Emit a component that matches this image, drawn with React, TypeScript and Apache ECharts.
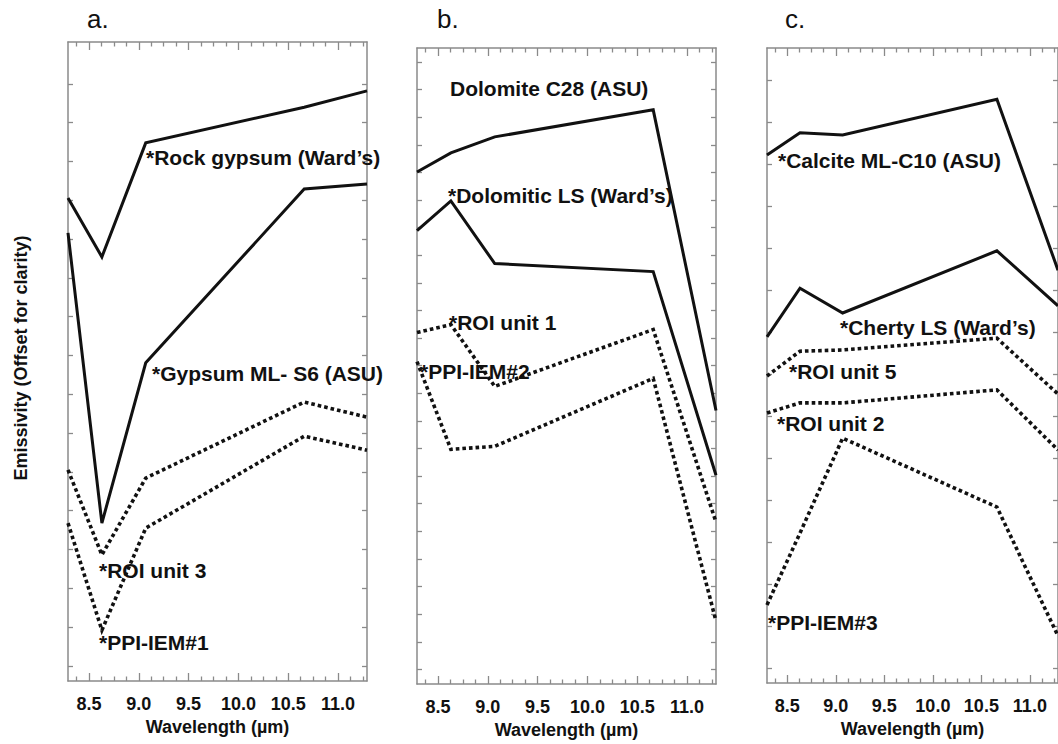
import React, { useEffect, useRef } from "react";
import * as echarts from "echarts";

// ---- data ----
const wavelengths = [8.29, 8.63, 9.07, 10.66, 11.29];

// panel a
const rockGypsum = [12.45, 10.93, 13.87, 14.79, 15.21];
const gypsumMLS6 = [11.55, 4.07, 8.2, 12.68, 12.81];
const roiUnit3 = [5.44, 3.25, 5.23, 7.19, 6.8];
const ppiIem1 = [4.07, 1.31, 3.94, 6.31, 5.95];

// panel b
const dolomiteC28 = [18.55, 19.24, 19.82, 20.8, 9.91];
const dolomiticLS = [16.42, 17.5, 15.23, 14.94, 7.56];
const roiUnit1 = [12.73, 13.02, 10.78, 12.84, 5.86];
const ppiIem2 = [11.68, 8.5, 8.61, 11.07, 2.28];

// panel c
const calciteC10 = [12.57, 13.1, 13.05, 13.9, 9.83];
const chertyLS = [8.24, 9.4, 8.81, 10.29, 8.98];
const roiUnit5 = [7.31, 7.9, 7.93, 8.21, 6.88];
const roiUnit2 = [6.43, 6.67, 6.67, 6.98, 5.55];
const ppiIem3 = [1.86, 3.57, 5.83, 4.19, 1.12];

// ticks
const majorTicks = [8.5, 9.0, 9.5, 10.0, 10.5, 11.0];
const minorTicks = [
  8.375, 8.625, 8.75, 8.875, 9.125, 9.25, 9.375, 9.625, 9.75, 9.875,
  10.125, 10.25, 10.375, 10.625, 10.75, 10.875, 11.125, 11.25,
];
const panelLetters = ["a.", "b.", "c."];
const xName = "Wavelength (µm)";
const yName = "Emissivity (Offset for clarity)";

const FONT = '"Liberation Sans", Arial, Helvetica, sans-serif';
const FRAME = "#8a8a8a";
const INK = "#111111";

type S = { name: string; values: number[]; dotted: boolean; lx: number; ly: number };

const panels = [
  {
    letterX: 87, left: 68, top: 42, width: 299, height: 639, yMax: 16.47, yTick0: 0.39, yTickN: 16,
    series: [
      { name: "*Rock gypsum (Ward\u2019s)", values: rockGypsum, dotted: false, lx: 146, ly: 157 },
      { name: "*Gypsum ML- S6 (ASU)", values: gypsumMLS6, dotted: false, lx: 152, ly: 373 },
      { name: "*ROI unit 3", values: roiUnit3, dotted: true, lx: 99, ly: 570 },
      { name: "*PPI-IEM#1", values: ppiIem1, dotted: true, lx: 99, ly: 642 },
    ] as S[],
  },
  {
    letterX: 437, left: 417, top: 48, width: 299, height: 637, yMax: 23.04, yTick0: 0.53, yTickN: 23,
    series: [
      { name: "Dolomite C28 (ASU)", values: dolomiteC28, dotted: false, lx: 450, ly: 88 },
      { name: "*Dolomitic LS (Ward\u2019s)", values: dolomiticLS, dotted: false, lx: 448, ly: 195 },
      { name: "*ROI unit 1", values: roiUnit1, dotted: true, lx: 449, ly: 322 },
      { name: "*PPI-IEM#2", values: ppiIem2, dotted: true, lx: 420, ly: 371 },
    ] as S[],
  },
  {
    letterX: 785, left: 767, top: 48, width: 299, height: 635, yMax: 15.12, yTick0: 0.36, yTickN: 15,
    series: [
      { name: "*Calcite ML-C10 (ASU)", values: calciteC10, dotted: false, lx: 778, ly: 160 },
      { name: "*Cherty LS (Ward\u2019s)", values: chertyLS, dotted: false, lx: 840, ly: 327 },
      { name: "*ROI unit 5", values: roiUnit5, dotted: true, lx: 789, ly: 371 },
      { name: "*ROI unit 2", values: roiUnit2, dotted: true, lx: 777, ly: 423 },
      { name: "*PPI-IEM#3", values: ppiIem3, dotted: true, lx: 768, ly: 622 },
    ] as S[],
  },
];

function buildOption() {
  const grid: any[] = [];
  const xAxis: any[] = [];
  const yAxis: any[] = [];
  const series: any[] = [];
  const graphic: any[] = [];

  const axisLine = { show: true, onZero: false, lineStyle: { color: FRAME, width: 1.5 } };
  const tickStyle = { color: FRAME, width: 1.3 };

  panels.forEach((p, i) => {
    grid.push({ left: p.left, top: p.top, width: p.width, height: p.height, containLabel: false });
    const yTicks: number[] = [];
    for (let k = 0; k < p.yTickN; k++) yTicks.push(+(p.yTick0 + k).toFixed(2));

    const baseX = { gridIndex: i, type: "value", min: 8.29, max: 11.29, splitLine: { show: false } };
    xAxis.push({
      ...baseX,
      position: "bottom",
      name: xName,
      nameLocation: "middle",
      nameGap: 37,
      nameTextStyle: { fontFamily: FONT, fontWeight: "bold", fontSize: 18, color: INK },
      axisLine,
      axisTick: { show: true, inside: true, length: 8, customValues: majorTicks, lineStyle: tickStyle },
      axisLabel: {
        show: true,
        customValues: majorTicks,
        formatter: (v: number) => v.toFixed(1),
        margin: 14,
        fontFamily: FONT,
        fontSize: 18,
        fontWeight: "bold",
        color: INK,
      },
    });
    xAxis.push({
      ...baseX,
      position: "bottom",
      axisLine: { show: false, onZero: false },
      axisTick: { show: true, inside: true, length: 4.5, customValues: minorTicks, lineStyle: tickStyle },
      axisLabel: { show: false },
    });
    xAxis.push({
      ...baseX,
      position: "top",
      axisLine,
      axisTick: { show: true, inside: true, length: 8, customValues: majorTicks, lineStyle: tickStyle },
      axisLabel: { show: false },
    });
    xAxis.push({
      ...baseX,
      position: "top",
      axisLine: { show: false, onZero: false },
      axisTick: { show: true, inside: true, length: 4.5, customValues: minorTicks, lineStyle: tickStyle },
      axisLabel: { show: false },
    });

    const baseY = { gridIndex: i, type: "value", min: 0, max: p.yMax, splitLine: { show: false } };
    yAxis.push({
      ...baseY,
      position: "left",
      axisLine,
      axisTick: { show: true, inside: true, length: 5, customValues: yTicks, lineStyle: tickStyle },
      axisLabel: { show: false },
    });
    yAxis.push({
      ...baseY,
      position: "right",
      axisLine,
      axisTick: { show: true, inside: true, length: 5, customValues: yTicks, lineStyle: tickStyle },
      axisLabel: { show: false },
    });

    p.series.forEach((s) => {
      series.push({
        type: "line",
        name: s.name,
        xAxisIndex: 4 * i,
        yAxisIndex: 2 * i,
        data: wavelengths.map((w, k) => [w, s.values[k]]),
        symbol: "none",
        silent: true,
        clip: false,
        lineStyle: {
          color: INK,
          width: s.dotted ? 3.6 : 3,
          type: s.dotted ? [3.6, 3] : "solid",
          cap: "butt",
          join: "miter",
        },
      });
      graphic.push({
        type: "text",
        x: s.lx,
        y: s.ly,
        z: 10,
        style: {
          text: s.name,
          font: `bold 21px ${FONT}`,
          fill: INK,
          textAlign: "left",
          align: "left",
          textVerticalAlign: "middle",
          verticalAlign: "middle",
        },
      });
    });

    graphic.push({
      type: "text",
      x: p.letterX,
      y: 19,
      style: {
        text: panelLetters[i],
        font: `normal 26px ${FONT}`,
        fill: INK,
        textAlign: "left",
        align: "left",
        textVerticalAlign: "middle",
        verticalAlign: "middle",
      },
    });
  });

  graphic.push({
    type: "text",
    x: 21,
    y: 358,
    rotation: Math.PI / 2,
    style: {
      text: yName,
      font: `bold 18px ${FONT}`,
      fill: INK,
      textAlign: "center",
      align: "center",
      textVerticalAlign: "middle",
      verticalAlign: "middle",
    },
  });

  return {
    animation: false,
    backgroundColor: "#ffffff",
    grid,
    xAxis,
    yAxis,
    series,
    graphic,
  };
}

export default function App() {
  const ref = useRef<HTMLDivElement>(null);
  useEffect(() => {
    if (!ref.current) return;
    const chart = echarts.init(ref.current, undefined, { renderer: "svg" });
    chart.setOption(buildOption() as any);
    return () => chart.dispose();
  }, []);
  return (
    <div
      ref={ref}
      style={{ position: "absolute", left: 0, top: 0, width: 1058, height: 744, background: "#fff" }}
    />
  );
}
